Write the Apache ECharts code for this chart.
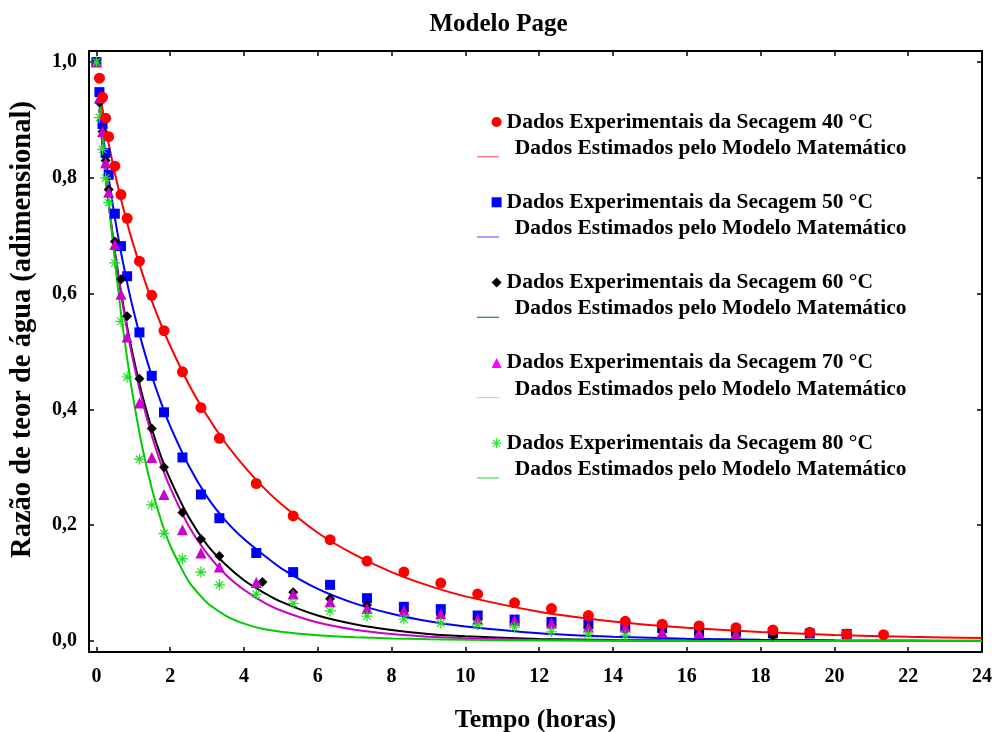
<!DOCTYPE html>
<html>
<head>
<meta charset="utf-8">
<script src="https://cdn.jsdelivr.net/npm/echarts@6/dist/echarts.min.js"></script>
<style>html,body{margin:0;padding:0;background:#fff}#c{width:997px;height:732px}</style>
</head>
<body>
<div id="c"></div>
<script>
// ---- Experimental data (time in hours, moisture ratio) ----
const t40 = [0.083, 0.167, 0.25, 0.333, 0.5, 0.667, 0.833, 1.167, 1.5, 1.833, 2.333, 2.833, 3.333, 4.333, 5.333, 6.333, 7.333, 8.333, 9.333, 10.333, 11.333, 12.333, 13.333, 14.333, 15.333, 16.333, 17.333, 18.333, 19.333, 20.333, 21.333];
const mr40 = [0.972, 0.939, 0.903, 0.871, 0.82, 0.771, 0.730, 0.656, 0.597, 0.536, 0.465, 0.403, 0.350, 0.272, 0.216, 0.175, 0.138, 0.119, 0.100, 0.081, 0.066, 0.056, 0.044, 0.034, 0.029, 0.026, 0.023, 0.019, 0.015, 0.012, 0.011];

const t50 = [0, 0.083, 0.167, 0.25, 0.333, 0.5, 0.667, 0.833, 1.167, 1.5, 1.833, 2.333, 2.833, 3.333, 4.333, 5.333, 6.333, 7.333, 8.333, 9.333, 10.333, 11.333, 12.333, 13.333, 14.333, 15.333, 16.333, 17.333, 18.333, 19.333, 20.333];
const mr50 = [1, 0.948, 0.893, 0.843, 0.805, 0.738, 0.682, 0.630, 0.533, 0.458, 0.395, 0.317, 0.253, 0.212, 0.152, 0.119, 0.097, 0.074, 0.059, 0.055, 0.044, 0.037, 0.033, 0.029, 0.026, 0.022, 0.016, 0.016, 0.013, 0.013, 0.012];

const t60 = [0, 0.083, 0.167, 0.25, 0.333, 0.5, 0.667, 0.833, 1.167, 1.5, 1.833, 2.333, 2.833, 3.333, 4.5, 5.333, 6.333, 7.333, 8.333, 9.333, 10.333, 11.333, 12.333, 13.333, 14.333, 15.333, 16.333, 17.333, 18.333];
const mr60 = [1, 0.93, 0.88, 0.83, 0.78, 0.69, 0.625, 0.561, 0.453, 0.367, 0.300, 0.222, 0.176, 0.147, 0.102, 0.084, 0.073, 0.062, 0.052, 0.045, 0.038, 0.033, 0.028, 0.024, 0.020, 0.017, 0.015, 0.014, 0.009];

const t70 = [0, 0.083, 0.167, 0.25, 0.333, 0.5, 0.667, 0.833, 1.167, 1.5, 1.833, 2.333, 2.833, 3.333, 4.333, 5.333, 6.333, 7.333, 8.333, 9.333, 10.333, 11.333, 12.333, 13.333, 14.333, 15.333, 16.333, 17.333];
const mr70 = [1, 0.938, 0.88, 0.826, 0.775, 0.685, 0.599, 0.525, 0.411, 0.317, 0.253, 0.192, 0.152, 0.128, 0.101, 0.081, 0.068, 0.056, 0.053, 0.047, 0.038, 0.036, 0.031, 0.024, 0.024, 0.015, 0.014, 0.013];

const t80 = [0, 0.083, 0.167, 0.25, 0.333, 0.5, 0.667, 0.833, 1.167, 1.5, 1.833, 2.333, 2.833, 3.333, 4.333, 5.333, 6.333, 7.333, 8.333, 9.333, 10.333, 11.333, 12.333, 13.333, 14.333];
const mr80 = [1, 0.904, 0.849, 0.80, 0.757, 0.653, 0.552, 0.456, 0.314, 0.235, 0.186, 0.142, 0.119, 0.097, 0.081, 0.065, 0.052, 0.043, 0.038, 0.031, 0.028, 0.024, 0.016, 0.012, 0.010];

// ---- Model curves ----
const tFit = [0.083, 0.167, 0.25, 0.333, 0.5, 0.667, 0.833, 1, 1.25, 1.5, 1.75, 2, 2.5, 3, 3.5, 4, 4.5, 5, 6, 7, 8, 9, 10, 12, 14, 16, 18, 20, 22, 24];
const fit40 = [0.953, 0.918, 0.887, 0.859, 0.808, 0.763, 0.722, 0.685, 0.634, 0.588, 0.547, 0.510, 0.444, 0.389, 0.342, 0.302, 0.267, 0.237, 0.187, 0.149, 0.119, 0.0956, 0.0771, 0.0507, 0.0338, 0.0227, 0.0154, 0.0105, 0.0072, 0.005];
const fit50 = [0.932, 0.881, 0.838, 0.799, 0.731, 0.671, 0.619, 0.572, 0.511, 0.458, 0.412, 0.371, 0.303, 0.249, 0.208, 0.176, 0.150, 0.126, 0.090, 0.065, 0.047, 0.034, 0.025, 0.0135, 0.0074, 0.0041, 0.0023, 0.0013, 0.0008, 0.0004];
const fit60 = [0.917, 0.855, 0.802, 0.755, 0.673, 0.603, 0.543, 0.491, 0.423, 0.367, 0.319, 0.279, 0.214, 0.166, 0.132, 0.105, 0.085, 0.068, 0.044, 0.029, 0.019, 0.012, 0.008, 0.0035, 0.0016, 0.0007, 0.0003, 0.0001, 0.0001, 0];
const fit70 = [0.920, 0.857, 0.804, 0.756, 0.671, 0.599, 0.537, 0.483, 0.413, 0.355, 0.306, 0.265, 0.199, 0.151, 0.115, 0.0885, 0.0681, 0.0527, 0.0318, 0.0194, 0.0120, 0.0074, 0.0046, 0.0019, 0.0008, 0.0003, 0.0001, 0, 0, 0];
const fit80 = [0.938, 0.876, 0.816, 0.760, 0.657, 0.566, 0.488, 0.419, 0.333, 0.264, 0.209, 0.165, 0.103, 0.066, 0.044, 0.030, 0.021, 0.016, 0.010, 0.0065, 0.0045, 0.003, 0.002, 0.001, 0.0005, 0.0002, 0.0001, 0.0001, 0, 0];

const xTicks = [0, 2, 4, 6, 8, 10, 12, 14, 16, 18, 20, 22, 24];
const yTicks = [0, 0.2, 0.4, 0.6, 0.8, 1.0];

const expLabel = tc => 'Dados Experimentais da Secagem ' + tc + ' \u00B0C';
const estLabel = '  Dados Estimados pelo Modelo Matem\u00E1tico';

const FONT = 'Liberation Serif';
const zip = (a, b) => a.map((v, i) => [v, b[i]]);
const STAR = 'path://M5,0 L5,10 M0,5 L10,5 M1.6,1.6 L8.4,8.4 M1.6,8.4 L8.4,1.6';
const LINEICON = 'path://M0,0 L0,0 M0,16.8 L22,16.8 L22,18 L0,18 Z';

const chart = echarts.init(document.getElementById('c'), null, {renderer: 'canvas'});

function lineSeries(name, data, color) {
  return {
    name: name, type: 'line', data: data, smooth: 0.2,
    showSymbol: false, symbol: 'none', lineStyle: {color: color, width: 2}, itemStyle: {color: color},
    clip: true, silent: true, z: 2
  };
}
function scatterSeries(name, data, symbol, size, style) {
  return {name: name, type: 'scatter', data: data, symbol: symbol, symbolSize: size,
    itemStyle: Object.assign({opacity: 1}, style), silent: true, z: 3};
}

const series = [
  lineSeries('e40', zip(tFit, fit40), '#ff0000'),
  lineSeries('e50', zip(tFit, fit50), '#0000ff'),
  lineSeries('e60', zip(tFit, fit60), '#000000'),
  lineSeries('e70', zip(tFit, fit70), '#cc00cc'),
  lineSeries('e80', zip(tFit, fit80), '#00cc00'),
  scatterSeries('x50', zip(t50, mr50), 'rect', 10, {color: '#0000ff'}),
  scatterSeries('x60', zip(t60, mr60), 'diamond', 10, {color: '#000000'}),
  scatterSeries('x70', zip(t70, mr70), 'triangle', 11, {color: '#cc00cc'}),
  scatterSeries('x80', zip(t80, mr80), STAR, 11, {color: 'rgba(0,0,0,0)', borderColor: '#22dd22', borderWidth: 1.2}),
  scatterSeries('x40', zip(t40, mr40), 'circle', 11, {color: '#ff0000'})
];

const legendText = {fontFamily: FONT, fontWeight: 'bold', fontSize: 21.5, color: '#000', lineHeight: 22};

const option = {
  backgroundColor: '#fff',
  animation: false,
  title: {
    text: 'Modelo Page', left: 'center', top: 7,
    textStyle: {fontFamily: FONT, fontWeight: 'bold', fontSize: 25, color: '#000'}
  },
  legend: [
    {
      orient: 'vertical', left: 491, top: 111, itemWidth: 10, itemHeight: 10, itemGap: 58.3, padding: 0,
      selectedMode: false, textStyle: legendText,
      formatter: n => expLabel(n.slice(1)),
      data: [
        {name: 'x40', icon: 'circle', itemStyle: {color: '#ff0000'}},
        {name: 'x50', icon: 'rect', itemStyle: {color: '#0000ff'}},
        {name: 'x60', icon: 'diamond', itemStyle: {color: '#000000'}},
        {name: 'x70', icon: 'triangle', itemStyle: {color: '#ff00ff'}},
        {name: 'x80', icon: STAR, itemStyle: {color: 'rgba(0,0,0,0)', borderColor: '#22ee22', borderWidth: 1.2}}
      ]
    },
    {
      orient: 'vertical', left: 477, top: 137.3, itemWidth: 22, itemHeight: 18, itemGap: 58.3, padding: 0,
      selectedMode: false, textStyle: legendText,
      formatter: () => estLabel,
      data: [
        {name: 'e40', icon: LINEICON, itemStyle: {color: '#ff6464', borderWidth: 0}},
        {name: 'e50', icon: LINEICON, itemStyle: {color: '#6464ff', borderWidth: 0}},
        {name: 'e60', icon: LINEICON, itemStyle: {color: '#2e7d3c', borderWidth: 0}},
        {name: 'e70', icon: LINEICON, itemStyle: {color: '#ffb4c8', borderWidth: 0}},
        {name: 'e80', icon: LINEICON, itemStyle: {color: '#33ee33', borderWidth: 0}}
      ]
    }
  ],
  grid: {left: 89, right: 15, top: 51, bottom: 80, containLabel: false, outerBoundsMode: 'none'},
  xAxis: [
    {
      type: 'value', min: -0.2, max: 24, position: 'bottom',
      axisLine: {onZero: false, lineStyle: {color: '#000', width: 2}},
      axisTick: {inside: true, length: 5, customValues: xTicks, lineStyle: {color: '#000', width: 1.5}},
      axisLabel: {customValues: xTicks, margin: 15, fontFamily: FONT, fontWeight: 'bold', fontSize: 20, color: '#000'},
      splitLine: {show: false},
      name: 'Tempo (horas)', nameLocation: 'middle', nameGap: 55,
      nameTextStyle: {fontFamily: FONT, fontWeight: 'bold', fontSize: 26, color: '#000'}
    },
    {
      type: 'value', min: -0.2, max: 24, position: 'top',
      axisLine: {onZero: false, lineStyle: {color: '#000', width: 2}},
      axisTick: {inside: true, length: 5, customValues: xTicks, lineStyle: {color: '#000', width: 1.5}},
      axisLabel: {show: false}, splitLine: {show: false}
    }
  ],
  yAxis: [
    {
      type: 'value', min: -0.019, max: 1.019, position: 'left',
      axisLine: {onZero: false, lineStyle: {color: '#000', width: 2}},
      axisTick: {inside: true, length: 5, customValues: yTicks, lineStyle: {color: '#000', width: 1.5}},
      axisLabel: {customValues: yTicks, margin: 12, fontFamily: FONT, fontWeight: 'bold', fontSize: 20, color: '#000',
        formatter: v => v.toFixed(1).replace('.', ',')},
      splitLine: {show: false},
      name: 'Raz\u00E3o de teor de \u00E1gua (adimensional)', nameLocation: 'middle', nameGap: 52,
      nameTextStyle: {fontFamily: FONT, fontWeight: 'bold', fontSize: 28.5, color: '#000', padding: [0, 0, 0, 44]}
    },
    {
      type: 'value', min: -0.019, max: 1.019, position: 'right',
      axisLine: {onZero: false, lineStyle: {color: '#000', width: 2}},
      axisTick: {inside: true, length: 5, customValues: yTicks, lineStyle: {color: '#000', width: 1.5}},
      axisLabel: {show: false}, splitLine: {show: false}
    }
  ],
  series: series
};
chart.setOption(option);
</script>
</body>
</html>
